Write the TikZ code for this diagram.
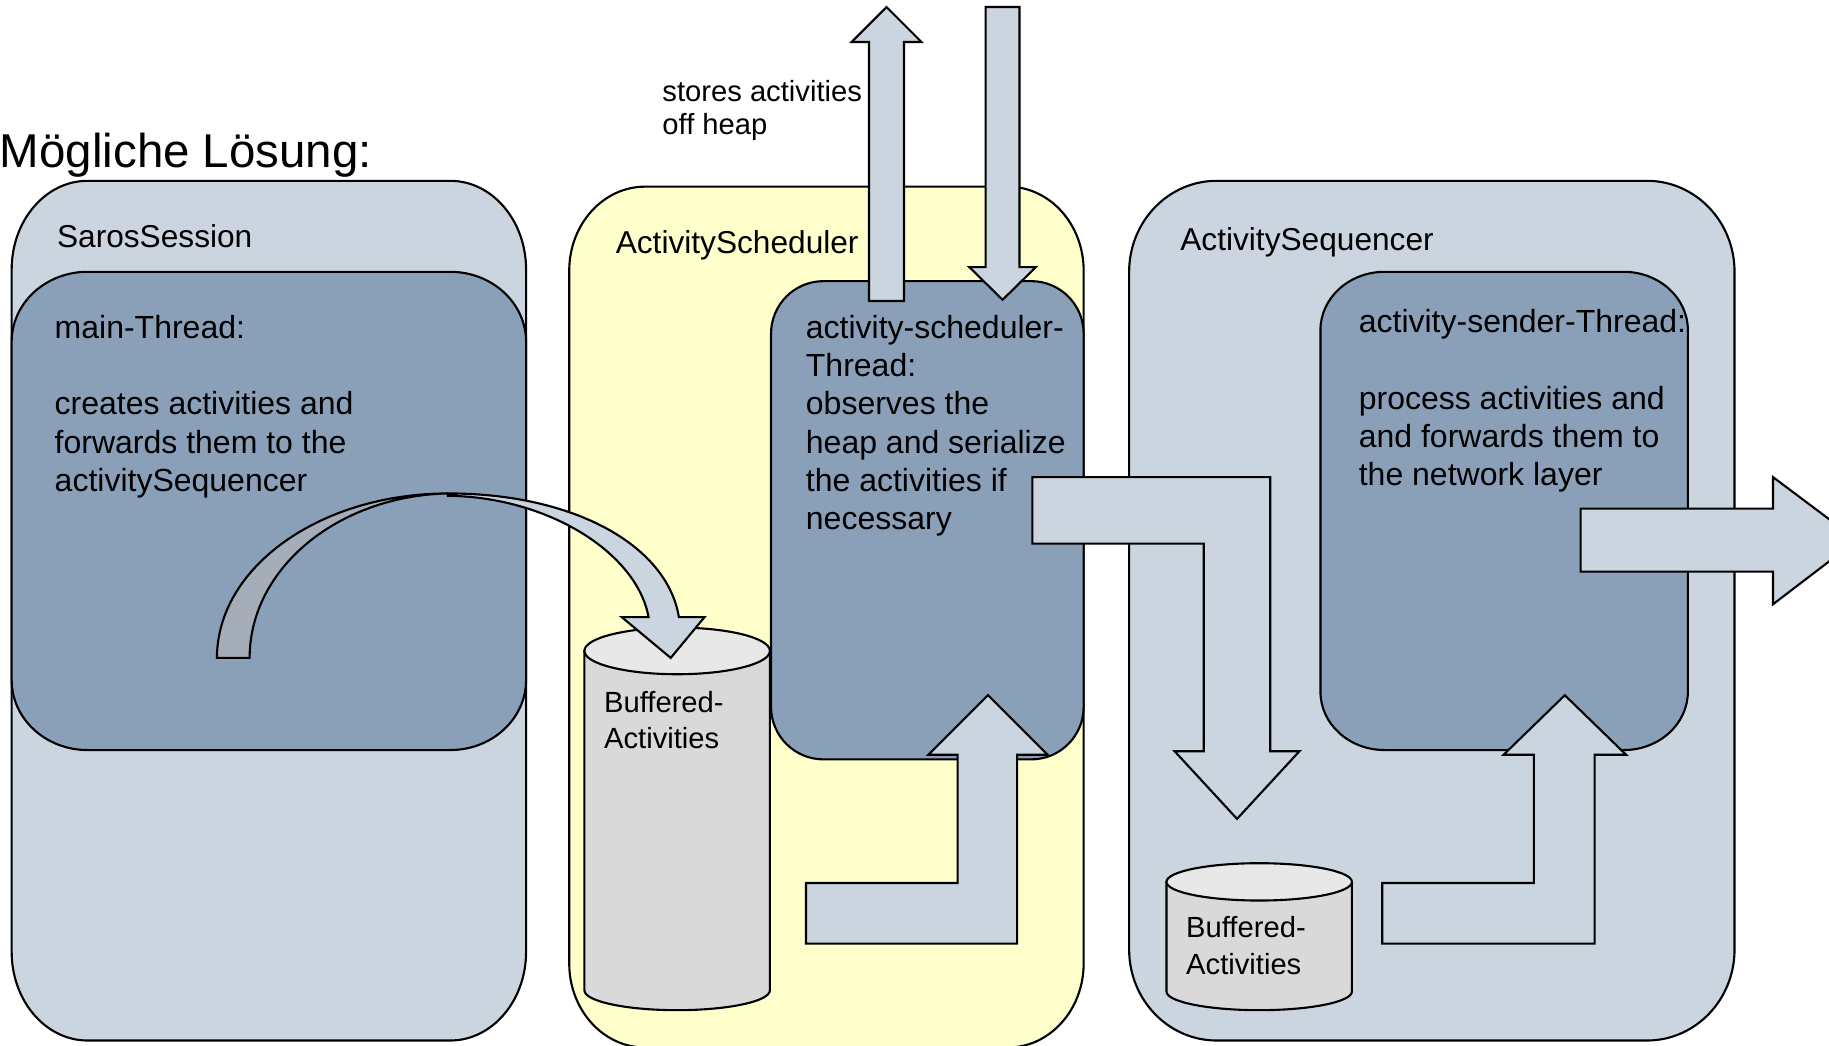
\documentclass[tikz,border=0pt]{standalone}
\usepackage{fontspec}
\setmainfont{Liberation Sans}
\usepackage{tikz}
\usetikzlibrary{shapes.geometric}
\usetikzlibrary{arrows.meta, positioning}

\definecolor{boxblue}{HTML}{CBD5E0}
\definecolor{threadblue}{HTML}{8AA0B8}
\definecolor{schedyellow}{HTML}{FFFFCC}
\definecolor{cylbody}{HTML}{D9D9D9}
\definecolor{cyltop}{HTML}{E8E8E8}
\definecolor{backgray}{HTML}{A5AEB8}

% rounded box with elliptic corners: style, x1, y1, x2, y2, rx, ry
\newcommand{\roundbox}[7]{%
  \path[#1] (#2+#6,#3) -- (#4-#6,#3)
    arc[start angle=270, end angle=360, x radius=#6, y radius=#7]
    -- (#4,#5-#7)
    arc[start angle=0, end angle=90, x radius=#6, y radius=#7]
    -- (#2+#6,#5)
    arc[start angle=90, end angle=180, x radius=#6, y radius=#7]
    -- (#2,#3+#7)
    arc[start angle=180, end angle=270, x radius=#6, y radius=#7]
    -- cycle;}

\begin{document}
\begin{tikzpicture}[
    x = 0.011665cm, y = -0.011665cm,
    line width = 0.6pt,
    compbox/.style = {draw, fill=#1},
    cylbox/.style = {draw, fill=cylbody},
    blockarrow/.style = {draw, fill=boxblue, line join=miter},
    ttl/.style = {inner sep=0pt, anchor=base west, font=\fontsize{13.5}{16}\selectfont},
    lbl/.style = {inner sep=0pt, anchor=base west, font=\fontsize{9}{10.85}\selectfont},
    txt/.style = {inner sep=0pt, anchor=north west, align=left,
    font=\fontsize{9.1}{10.85}\selectfont},
    smalltxt/.style = {inner sep=0pt, anchor=north west, align=left,
    font=\fontsize{8.3}{#1}\selectfont}
    ]
    \useasboundingbox (0,0) rectangle (1568,896);
    %
    % components
    \roundbox{compbox=boxblue}{10}{155}{451}{892}{65}{76}
    \roundbox{compbox=schedyellow}{488}{160}{929}{898}{65}{72}
    \roundbox{compbox=boxblue}{968}{155}{1487}{892}{75}{78}
    % threads
    \roundbox{compbox=threadblue}{10}{233}{451}{643}{65}{60}
    \roundbox{compbox=threadblue}{661}{241}{929}{651}{45}{45}
    \roundbox{compbox=threadblue}{1132}{233}{1447}{643}{55}{50}
    %
    % buffers
    \path[cylbox] (501,558) -- (501,849)
        arc[start angle=180, end angle=0, x radius=79.5, y radius=17] -- (660,558) -- cycle;
    \path[cylbox, fill=cyltop] (580.5,558) ellipse[x radius=79.5, y radius=20];
    \path[cylbox] (1000,756) -- (1000,850)
        arc[start angle=180, end angle=0, x radius=79.5, y radius=16] -- (1159,756) -- cycle;
    \path[cylbox, fill=cyltop] (1079.5,756) ellipse[x radius=79.5, y radius=16];
    %
    % block arrows
    \path[blockarrow] (745,258) -- (745,36) -- (730,36) -- (760,6) -- (790,36)
        -- (775,36) -- (775,258) -- cycle;
    \path[blockarrow] (845,6) -- (874,6) -- (874,229) -- (888,229) -- (859.5,257)
        -- (831,229) -- (845,229) -- cycle;
    \path[blockarrow, fill=backgray] (186,564) .. controls (186,486) and (275,423) .. (384,423)
        .. controls (290,425) and (214,487) .. (214,564) -- cycle;
    \path[blockarrow] (384,423) .. controls (493,423) and (572,468) .. (582,529)
        -- (604,529) -- (575,564) -- (533,529) -- (556,529)
        .. controls (546,474) and (470,426) .. (384,425) -- cycle;
    \path[blockarrow] (885,409) -- (1089,409) -- (1089,644) -- (1114,644) -- (1060.5,702)
        -- (1007,644) -- (1032,644) -- (1032,466) -- (885,466) -- cycle;
    \path[blockarrow] (1355,436) -- (1520,436) -- (1520,409) -- (1592,463) -- (1520,518)
        -- (1520,490) -- (1355,490) -- cycle;
    \path[blockarrow] (691,757) -- (821,757) -- (821,647) -- (796,647) -- (847,596)
        -- (898,647) -- (872,647) -- (872,809) -- (691,809) -- cycle;
    \path[blockarrow] (1185,757) -- (1315,757) -- (1315,647) -- (1289,647) -- (1341.5,596)
        -- (1394,647) -- (1367,647) -- (1367,809) -- (1185,809) -- cycle;
    %
    % texts
    \node[ttl] (Title) at (-1,144) {Mögliche Lösung:};
    \node[smalltxt=9.3pt] (StoresTxt) at (567,68) {stores activities\\off heap};
    \node[lbl] (SarosLbl) at (48,212) {SarosSession};
    \node[lbl] (SchedLbl) at (527,217) {ActivityScheduler};
    \node[lbl] (SeqLbl) at (1011,215) {ActivitySequencer};
    \node[txt] (MainTxt) at (46,269.5)
        {main-Thread:\\ \\creates activities and\\forwards them to the\\activitySequencer};
    \node[txt] (SchedTxt) at (690,269.5)
        {activity-scheduler-\\Thread:\\observes the\\heap and serialize\\the activities if\\necessary};
    \node[txt] (SenderTxt) at (1164,264.5)
        {activity-sender-Thread:\\ \\process activities and\\and forwards them to\\the network layer};
    \node[smalltxt=10.3pt] (BuffOne) at (517,592) {Buffered-\\Activities};
    \node[smalltxt=10.3pt] (BuffTwo) at (1016,785) {Buffered-\\Activities};
\end{tikzpicture}
\end{document}
